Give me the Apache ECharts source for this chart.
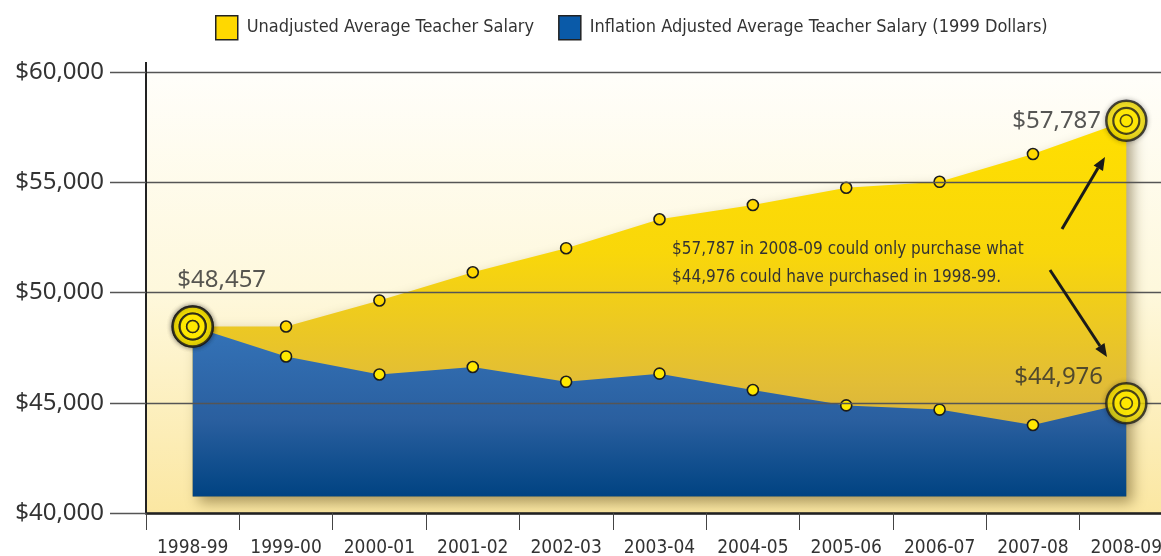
<!DOCTYPE html>
<html>
<head>
<meta charset="utf-8">
<script src="https://cdn.jsdelivr.net/npm/echarts@6/dist/echarts.min.js"></script>
<style>
  html, body { margin: 0; padding: 0; background: #fff; }
  #chart { width: 1161px; height: 556px; }
</style>
</head>
<body>
<div id="chart"></div>
<script>
// school years on the x axis
var years = ["1998-99", "1999-00", "2000-01", "2001-02", "2002-03", "2003-04",
  "2004-05", "2005-06", "2006-07", "2007-08", "2008-09"];
// unadjusted average salary (ends are labelled)
var unadjusted = [48457, 48460, 49640, 50920, 52010, 53320, 53970, 54750, 55020, 56280, 57787];
// inflation adjusted, 1999 dollars
var adjusted = [48457, 47100, 46280, 46620, 45950, 46320, 45580, 44880, 44690, 43990, 44976];
var yTicks = [40000, 45000, 50000, 55000, 60000];
var seriesNames = ["Unadjusted Average Teacher Salary",
  "Inflation Adjusted Average Teacher Salary (1999 Dollars)"];

var condensed = "DejaVu Sans Condensed";
var money = function (v) { return "$" + Number(v).toLocaleString("en-US"); };
var last = years.length - 1;

// only the first and last point get the big target
function ends(values, labels) {
  return values.map(function (v, i) {
    if (i !== 0 && i !== last) return "-";
    if (!labels || !labels[i]) return v;
    return { value: v, label: labels[i] };
  });
}

function targetLayers(values, labels) {
  var layers = [
    { size: 40, border: 2.5 },
    { size: 26, border: 2.2 },
    { size: 12, border: 1.6 }
  ];
  return layers.map(function (l, k) {
    return {
      type: "scatter",
      z: 10 + k,
      symbol: "circle",
      symbolSize: l.size,
      silent: true,
      itemStyle: {
        color: "#ffe800",
        borderColor: "#1c1c1c",
        borderWidth: l.border,
        shadowColor: k === 0 ? "rgba(0,0,0,0.3)" : "transparent",
        shadowBlur: k === 0 ? 5 : 0
      },
      label: { show: false },
      data: ends(values, k === 0 ? labels : null)
    };
  });
}

var bigLabel = {
  show: true,
  formatter: function (p) { return money(p.value); },
  fontFamily: "Noto Sans",
  fontSize: 24,
  color: "#2c2c2c"
};

var chart = echarts.init(document.getElementById("chart"), null, { renderer: "canvas" });

chart.setOption({
  animation: false,
  backgroundColor: "#ffffff",
  legend: {
    left: 210,
    top: 10,
    itemWidth: 22,
    itemHeight: 24,
    itemGap: 24,
    icon: "rect",
    textStyle: { fontFamily: condensed, fontSize: 18, color: "#333", padding: [0, 0, 0, 4] },
    data: [
      { name: seriesNames[0], itemStyle: { color: "#ffd800", borderColor: "#222", borderWidth: 1.5 } },
      { name: seriesNames[1], itemStyle: { color: "#0a5aa8", borderColor: "#222", borderWidth: 1.5 } }
    ]
  },
  grid: {
    left: 146,
    top: 72,
    width: 1027,
    height: 441,
    containLabel: false,
    outerBoundsMode: "none",
    show: true,
    borderWidth: 0,
    backgroundColor: {
      type: "linear", x: 0, y: 0, x2: 0, y2: 1,
      colorStops: [
        { offset: 0, color: "#fffefa" },
        { offset: 0.5, color: "#fef8dc" },
        { offset: 1, color: "#fbe7a2" }
      ]
    }
  },
  xAxis: {
    type: "category",
    data: years,
    boundaryGap: true,
    z: 5,
    axisLine: { lineStyle: { color: "#222", width: 2.5 } },
    axisTick: { show: true, length: 17, lineStyle: { color: "#444", width: 1 } },
    axisLabel: { interval: 0, margin: 26, fontFamily: condensed, fontSize: 19, color: "#333" }
  },
  yAxis: {
    type: "value",
    min: yTicks[0],
    max: yTicks[yTicks.length - 1],
    interval: 5000,
    z: 5,
    axisLine: { show: true, lineStyle: { color: "#222", width: 2 } },
    axisTick: { show: true, length: 36, lineStyle: { color: "#555", width: 1.3 } },
    splitLine: { show: true, lineStyle: { color: "#555", width: 1.3 } },
    axisLabel: {
      margin: 42,
      formatter: money,
      fontFamily: "Noto Sans",
      fontSize: 24,
      color: "#333"
    }
  },
  series: [
    {
      name: seriesNames[0],
      type: "line",
      z: 2,
      data: unadjusted,
      symbol: "circle",
      symbolSize: 11,
      itemStyle: { color: "#ffd800", borderColor: "#1c1c1c", borderWidth: 1.6 },
      lineStyle: { width: 0 },
      areaStyle: {
        origin: 40750,
        opacity: 1,
        shadowColor: "rgba(70,50,0,0.45)",
        shadowBlur: 14,
        shadowOffsetX: 6,
        shadowOffsetY: 6,
        color: {
          type: "linear", x: 0, y: 0, x2: 0, y2: 1,
          colorStops: [
            { offset: 0, color: "#ffdf00" },
            { offset: 0.35, color: "#f9d70a" },
            { offset: 0.7, color: "#e2bd36" },
            { offset: 1, color: "#c9a545" }
          ]
        }
      }
    },
    {
      name: seriesNames[1],
      type: "line",
      z: 3,
      data: adjusted,
      symbol: "circle",
      symbolSize: 11,
      itemStyle: { color: "#ffe800", borderColor: "#1c1c1c", borderWidth: 1.6 },
      lineStyle: { width: 0 },
      areaStyle: {
        origin: 40750,
        opacity: 1,
        color: {
          type: "linear", x: 0, y: 0, x2: 0, y2: 1,
          colorStops: [
            { offset: 0, color: "#3473b8" },
            { offset: 0.55, color: "#2a5f9f" },
            { offset: 1, color: "#004382" }
          ]
        }
      }
    }
  ]
    .concat(targetLayers(unadjusted, {
      0: Object.assign({}, bigLabel, { position: "top", offset: [29, -8] }),
      10: Object.assign({}, bigLabel, { position: "left", distance: 4, offset: [0, 0] })
    }))
    .concat(targetLayers(adjusted, {
      10: Object.assign({}, bigLabel, { position: "left", distance: 2, offset: [0, -26] })
    })),
  graphic: [
    // y axis line runs a little above the top gridline
    { type: "line", z: 5, shape: { x1: 146, y1: 62, x2: 146, y2: 72 }, style: { stroke: "#222", lineWidth: 2 } },
    {
      type: "text",
      left: 672,
      top: 236,
      z: 20,
      style: {
        text: "$57,787 in 2008-09 could only purchase what\n$44,976 could have purchased in 1998-99.",
        font: "17px 'DejaVu Sans Condensed'",
        lineHeight: 28,
        fill: "#333"
      }
    },
    { type: "line", z: 20, shape: { x1: 1062, y1: 229, x2: 1098, y2: 168 }, style: { stroke: "#1a1a1a", lineWidth: 3 } },
    { type: "polygon", z: 20, shape: { points: [[1105, 157], [1103, 171], [1093.6, 165.4]] }, style: { fill: "#1a1a1a" } },
    { type: "line", z: 20, shape: { x1: 1050, y1: 270, x2: 1100, y2: 346 }, style: { stroke: "#1a1a1a", lineWidth: 3 } },
    { type: "polygon", z: 20, shape: { points: [[1107, 357], [1104.5, 343.1], [1095.3, 349.1]] }, style: { fill: "#1a1a1a" } }
  ]
});
</script>
</body>
</html>
